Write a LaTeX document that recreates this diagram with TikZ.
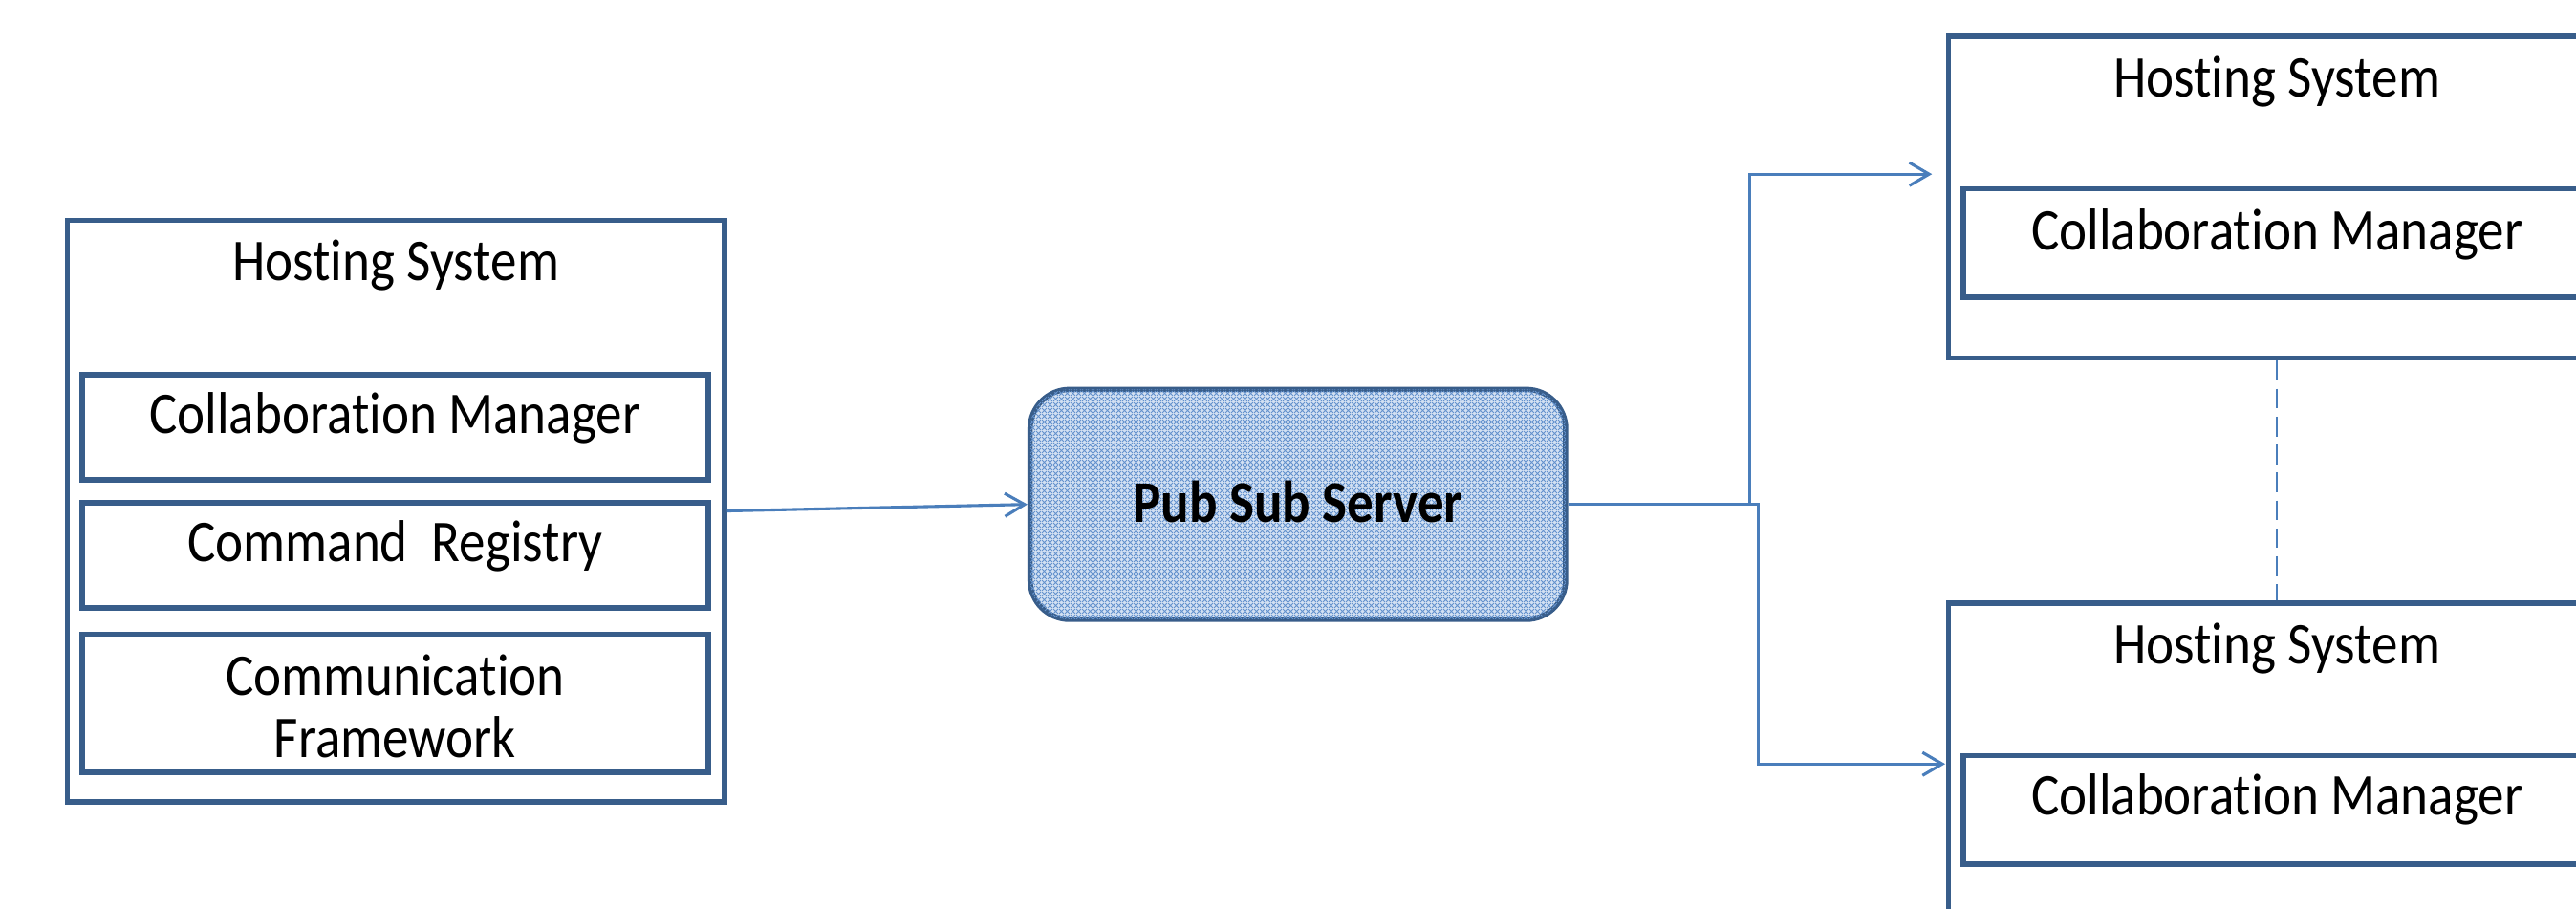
\documentclass[tikz,border=0pt]{standalone}
\usepackage{fontspec}
\setmainfont[FakeStretch=0.89,RawFeature={-liga;-calt;-dlig;-clig}]{Carlito}
\usetikzlibrary{arrows.meta,patterns}
\definecolor{boxline}{RGB}{56,93,138}
\definecolor{connline}{RGB}{74,126,187}
\definecolor{hatchbg}{RGB}{210,224,242}
\definecolor{hatchfg}{RGB}{100,146,205}
\pgfdeclarepatternformonly{finehatch}{\pgfpointorigin}{\pgfqpoint{1.6pt}{1.6pt}}{\pgfqpoint{1.6pt}{1.6pt}}{%
  \pgfsetlinewidth{0.3pt}%
  \pgfpathmoveto{\pgfqpoint{0pt}{0pt}}\pgfpathlineto{\pgfqpoint{1.6pt}{1.6pt}}%
  \pgfpathmoveto{\pgfqpoint{0pt}{1.6pt}}\pgfpathlineto{\pgfqpoint{1.6pt}{0pt}}%
  \pgfusepath{stroke}}
\tikzset{
  outerbox/.style={draw=boxline, line width=1.6pt, minimum width=200pt, inner sep=0pt},
  innerbox/.style={draw=boxline, line width=1.6pt, inner sep=0pt},
  lbl/.style={anchor=base, inner sep=0pt, font=\fontsize{18}{19.5}\selectfont},
  conn/.style={draw=connline, line width=0.9pt, -{Straight Barb[length=6pt,width=7pt]}},
  dashline/.style={draw=connline, line width=0.7pt, dash pattern=on 6pt off 2.5pt},
  pubbox/.style={draw=boxline, line width=1.6pt, rounded corners=12pt, fill=hatchbg,
    postaction={pattern=finehatch, pattern color=hatchfg},
    minimum width=163pt, minimum height=70pt, inner sep=0pt}
}
\begin{document}
\begin{tikzpicture}[x=0.5pt, y=-0.5pt]
\clip (0,0) rectangle (1568,553);
\fill[white] (0,0) rectangle (1568,553);

% left hosting system
\node[outerbox, minimum height=177pt] (lhs) at (241,311) {};
\node[innerbox, minimum width=190.5pt, minimum height=32pt] (lcm) at (240.5,260) {};
\node[innerbox, minimum width=190.5pt, minimum height=32pt] (lcr) at (240.5,338) {};
\node[innerbox, minimum width=190.5pt, minimum height=42pt] (lcf) at (240.5,428) {};
\node[lbl] (lhst) at (241,171) {Hosting System};
\node[lbl] (lcmt) at (240.5,264) {Collaboration Manager};
\node[lbl] (lcrt) at (240.5,342) {Command~~Registry};
\node[lbl] (lcft1) at (240.5,423) {Communication};
\node[lbl] (lcft2) at (240.5,461) {Framework};

% pub sub server
\node[pubbox] (pub) at (790,307) {};
\node[lbl, font=\fontsize{18}{19.5}\selectfont\bfseries] (pubt) at (790,318) {Pub Sub Server};

% right top hosting system
\node[outerbox, minimum height=98pt] (rt) at (1386,120) {};
\node[innerbox, minimum width=191pt, minimum height=33pt] (rtcm) at (1386,148) {};
\node[lbl] (rtt) at (1386,59) {Hosting System};
\node[lbl] (rtcmt) at (1386,152) {Collaboration Manager};

% right bottom hosting system
\node[outerbox, minimum height=177pt] (rb) at (1386,544) {};
\node[innerbox, minimum width=191pt, minimum height=33pt] (rbcm) at (1386,493) {};
\node[lbl] (rbt) at (1386,404) {Hosting System};
\node[lbl] (rbcmt) at (1386,496) {Collaboration Manager};

% connectors
\coordinate (j1) at (1065,307);
\coordinate (j2) at (1070,307);
\coordinate (t1) at (1176,106);
\coordinate (t2) at (1184,465);
\draw[conn] (lhs.east) -- (pub.west);
\draw[conn] (pub.east) -- (j1) |- (t1);
\draw[conn] (pub.east) -- (j2) |- (t2);
\draw[dashline] (rt.south) -- (rb.north);
\end{tikzpicture}
\end{document}
